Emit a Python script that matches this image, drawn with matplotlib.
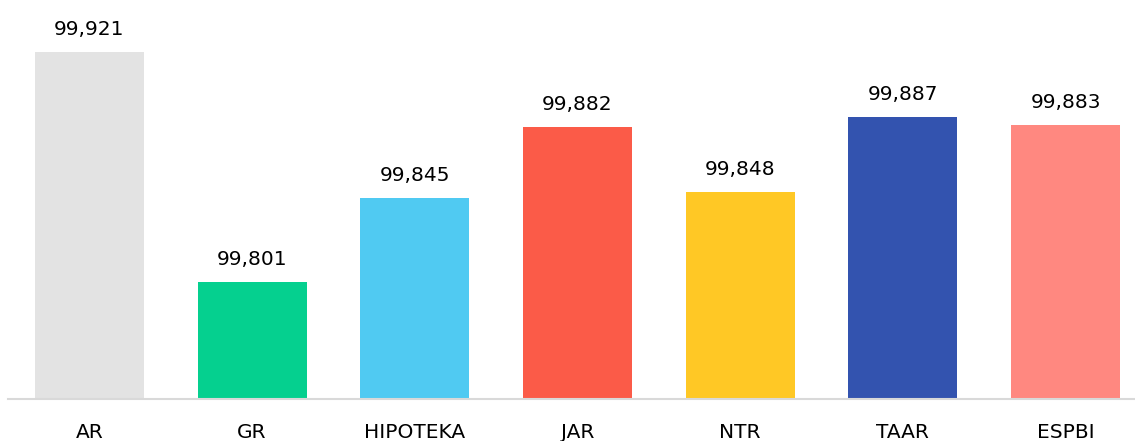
import matplotlib.pyplot as plt

# Datos
categorias = ['AR', 'GR', 'HIPOTEKA', 'JAR', 'NTR', 'TAAR', 'ESPBI']
valores = [99.921, 99.801, 99.845, 99.882, 99.848, 99.887, 99.883]
colores = ['#E3E3E3', '#05D08F', '#50CAF2', '#FB5B48', '#FFC825', '#3353AF', '#FF8880']
etiquetas = ['99,921', '99,801', '99,845', '99,882', '99,848', '99,887', '99,883']

fig = plt.figure(figsize=(11.35, 4.41), dpi=100)
ax = fig.add_axes([8 / 1135, 42 / 441, 1139 / 1135, 399 / 441])

x = range(len(categorias))
barras = ax.bar(x, valores, width=0.67, color=colores)

for b, txt in zip(barras, etiquetas):
    ax.annotate(txt, (b.get_x() + b.get_width() / 2, b.get_height()),
                xytext=(0, 13), textcoords='offset pixels',
                ha='center', va='bottom', fontsize=14.5, color='#000000')

ax.set_xlim(-0.5, 6.5)
ax.set_ylim(99.740, 99.9482)
ax.set_xticks(list(x))
ax.set_xticklabels(categorias, fontsize=14.5, color='#000000')
ax.tick_params(axis='x', length=0, pad=17)
ax.set_yticks([])
for s in ['top', 'right', 'left']:
    ax.spines[s].set_visible(False)
ax.spines['bottom'].set_color('#D9D9D9')
ax.spines['bottom'].set_linewidth(1.5)

fig.savefig('out.png', dpi=100)
